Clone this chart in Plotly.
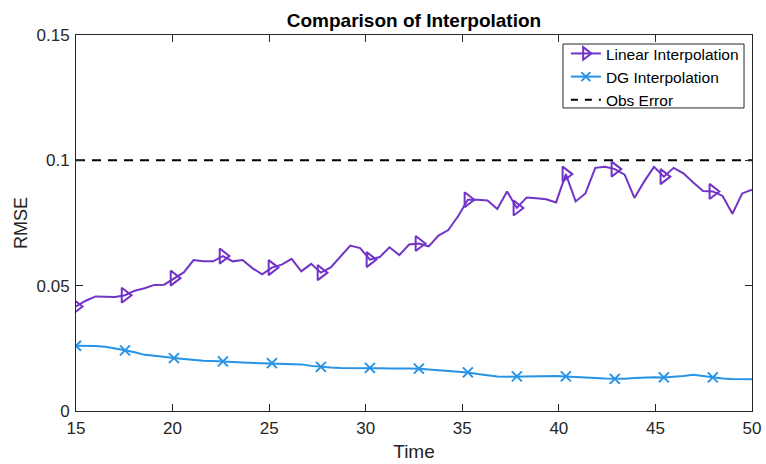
import plotly.graph_objects as go

# ---- data ----
t_start = 15.0
t_end = 50.0
n_points = 70
time = [t_start + k * (t_end - t_start) / (n_points - 1) for k in range(n_points)]

linear_rmse = [
    0.0417, 0.0440, 0.0457, 0.0455, 0.0455, 0.0462, 0.0480, 0.0490, 0.0503, 0.0504,
    0.0530, 0.0553, 0.0602, 0.0597, 0.0597, 0.0618, 0.0597, 0.0602, 0.0570, 0.0545,
    0.0572, 0.0584, 0.0607, 0.0557, 0.0587, 0.0552, 0.0573, 0.0615, 0.0660, 0.0650,
    0.0604, 0.0614, 0.0653, 0.0622, 0.0664, 0.0668, 0.0657, 0.0700, 0.0722, 0.0777,
    0.0843, 0.0843, 0.0840, 0.0806, 0.0876, 0.0810, 0.0852, 0.0849, 0.0845, 0.0832,
    0.0945, 0.0836, 0.0868, 0.0970, 0.0974, 0.0965, 0.0943, 0.0850, 0.0916, 0.0974,
    0.0935, 0.0970, 0.0948, 0.0912, 0.0878, 0.0876, 0.0858, 0.0787, 0.0868, 0.0883,
]

dg_rmse = [
    0.0260, 0.0260, 0.0259, 0.0256, 0.0250, 0.0242, 0.0234, 0.0224, 0.0220, 0.0217,
    0.0211, 0.0207, 0.0203, 0.0200, 0.0199, 0.0198, 0.0195, 0.0193, 0.0192, 0.0192,
    0.0191, 0.0190, 0.0188, 0.0186, 0.0180, 0.0176, 0.0174, 0.0172, 0.0172, 0.0173,
    0.0172, 0.0171, 0.0170, 0.0171, 0.0170, 0.0169, 0.0166, 0.0163, 0.0160, 0.0157,
    0.0154, 0.0148, 0.0143, 0.0138, 0.0137, 0.0138, 0.0139, 0.0140, 0.0141, 0.0140,
    0.0138, 0.0137, 0.0134, 0.0132, 0.0130, 0.0128, 0.0129, 0.0132, 0.0135, 0.0135,
    0.0134, 0.0136, 0.0140, 0.0145, 0.0140, 0.0134, 0.0130, 0.0128, 0.0127, 0.0127,
]

obs_error = 0.1
marker_step = 5

x_ticks = [15, 20, 25, 30, 35, 40, 45, 50]
y_ticks = [0, 0.05, 0.1, 0.15]
y_tick_labels = ["0", "0.05", "0.1", "0.15"]

series_names = ["Linear Interpolation", "DG Interpolation", "Obs Error"]

# ---- styles ----
PURPLE = "#7133C8"
BLUE = "#2693E6"
AXIS = "#262626"
FONT = "Liberation Sans, Arial, Helvetica, sans-serif"

fig = go.Figure()

# Obs error dashed line
fig.add_trace(go.Scatter(
    x=[t_start, t_end], y=[obs_error, obs_error], mode="lines",
    line=dict(color="black", width=2, dash="9px,7px"),
    name=series_names[2], showlegend=False,
))

# Linear interpolation
fig.add_trace(go.Scatter(
    x=time, y=linear_rmse, mode="lines",
    line=dict(color=PURPLE, width=2), showlegend=False, hoverinfo="skip",
))
fig.add_trace(go.Scatter(
    x=time[::marker_step], y=linear_rmse[::marker_step], mode="markers",
    marker=dict(symbol="triangle-right-open", size=13, color=PURPLE,
                line=dict(color=PURPLE, width=2)),
    showlegend=False,
))

# DG interpolation
fig.add_trace(go.Scatter(
    x=time, y=dg_rmse, mode="lines",
    line=dict(color=BLUE, width=2), showlegend=False, hoverinfo="skip",
))
fig.add_trace(go.Scatter(
    x=time[::marker_step], y=dg_rmse[::marker_step], mode="markers",
    marker=dict(symbol="x-thin-open", size=10, color=BLUE,
                line=dict(color=BLUE, width=2)),
    showlegend=False,
))

# legend-only entries
fig.add_trace(go.Scatter(
    x=[None], y=[None], mode="lines+markers", name=series_names[0],
    line=dict(color=PURPLE, width=2),
    marker=dict(symbol="triangle-right-open", size=11, color=PURPLE,
                line=dict(color=PURPLE, width=2)),
))
fig.add_trace(go.Scatter(
    x=[None], y=[None], mode="lines+markers", name=series_names[1],
    line=dict(color=BLUE, width=2),
    marker=dict(symbol="x-thin-open", size=9, color=BLUE,
                line=dict(color=BLUE, width=2)),
))
fig.add_trace(go.Scatter(
    x=[None], y=[None], mode="lines", name=series_names[2],
    line=dict(color="black", width=2, dash="7px,7px"),
))

axis_common = dict(
    showline=True, linecolor=AXIS, linewidth=1, mirror="allticks",
    ticks="inside", ticklen=7, tickcolor=AXIS, tickwidth=1,
    showgrid=False, zeroline=False, automargin=False,
    tickfont=dict(family=FONT, size=17, color=AXIS),
)

# legend frame (MATLAB-style tight box)
fig.add_shape(type="rect", xref="paper", yref="paper",
              x0=0.7204, x1=0.9882, y0=0.8059, y1=0.976,
              line=dict(color=AXIS, width=1), fillcolor="white", layer="above")

fig.update_layout(
    width=766, height=464,
    margin=dict(l=76, r=14, t=35, b=53),
    paper_bgcolor="white", plot_bgcolor="white",
    font=dict(family=FONT, color=AXIS),
    title=dict(text="<b>Comparison of Interpolation</b>",
               font=dict(family=FONT, size=19, color="black"),
               x=0.5, xref="paper", xanchor="center",
               y=1 - 20 / 464, yref="container", yanchor="middle"),
    xaxis=dict(range=[t_start, t_end], tickvals=x_ticks, ticklabelstandoff=2,
               title=dict(text="Time", font=dict(family=FONT, size=19, color=AXIS), standoff=7),
               **axis_common),
    yaxis=dict(range=[0, 0.15], tickvals=y_ticks, ticktext=y_tick_labels, ticklabelstandoff=2,
               title=dict(text="RMSE", font=dict(family=FONT, size=18, color=AXIS), standoff=4),
               **axis_common),
    legend=dict(x=0.988, y=0.995, xanchor="right", yanchor="top",
                bgcolor="rgba(0,0,0,0)", borderwidth=0,
                font=dict(family=FONT, size=15.5, color="black"),
                tracegroupgap=0, itemwidth=30,
                traceorder="normal"),
    showlegend=True,
)

fig.write_html("out.html")
